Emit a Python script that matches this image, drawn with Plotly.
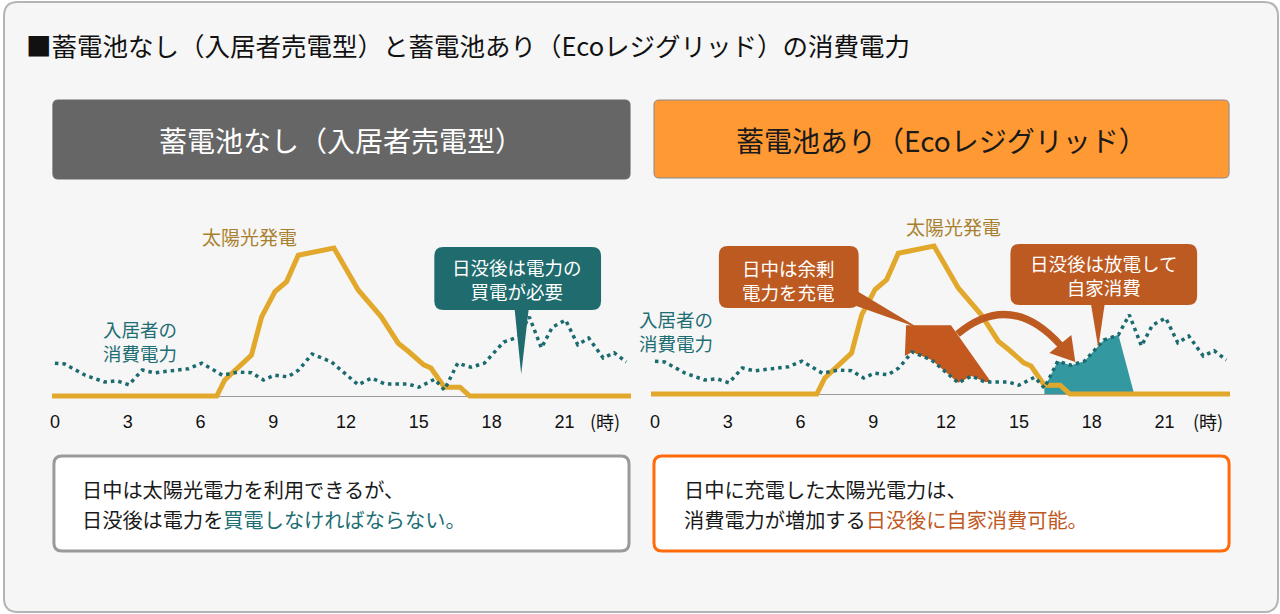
import plotly.graph_objects as go

W, H = 1280, 614
FONT = "Noto Sans CJK JP"

# ---------------- data ----------------
hours_solar = [-0.2, 6.67, 7.0, 8.1, 8.52, 9.07, 9.55, 10.03, 11.5, 12.5, 13.45, 14.15,
               14.6, 15.2, 15.5, 16.05, 16.7, 17.1, 23.8]
solar_kw = [0, 0, 0.4, 1.02, 1.98, 2.61, 2.86, 3.52, 3.7, 2.65, 1.98, 1.32,
            1.1, 0.78, 0.7, 0.22, 0.22, 0, 0]

hours_use = [0.0, 0.4, 1.25, 2.05, 2.55, 3.05, 3.6, 4.1, 5.5, 6.05, 6.9, 7.55, 8.1, 8.6,
             9.05, 9.6, 10.05, 10.6, 11.4, 12.5, 13.05, 13.6, 14.55, 15.0, 15.65, 16.05,
             16.6, 17.15, 17.7, 18.5, 19.1, 19.55, 20.05, 20.5, 21.05, 21.55, 22.0, 22.6,
             23.05, 23.55]
use_kw = [0.82, 0.8, 0.52, 0.35, 0.38, 0.28, 0.65, 0.58, 0.68, 0.82, 0.52, 0.6, 0.58, 0.4,
          0.52, 0.48, 0.65, 1.05, 0.85, 0.28, 0.45, 0.3, 0.3, 0.22, 0.42, 0.15,
          0.82, 0.72, 0.82, 1.35, 1.48, 1.98, 1.2, 1.72, 1.9, 1.28, 1.45, 0.95,
          1.08, 0.85]

# battery charge area (upper edge)
charge_hours = [10.3, 10.35, 12.2, 13.85]
charge_top = [0.95, 1.72, 1.72, 0.3]
# battery discharge window
discharge_start, discharge_peak, discharge_end = 16.05, 19.1, 19.75

tick_hours = [0, 3, 6, 9, 12, 15, 18, 21]
tick_labels = ["0", "3", "6", "9", "12", "15", "18", "21"]
hour_unit = "(時)"

title_text = "■蓄電池なし（入居者売電型）と蓄電池あり（Ecoレジグリッド）の消費電力"
left_header = "蓄電池なし（入居者売電型）"
right_header = "蓄電池あり（Ecoレジグリッド）"
solar_label = "太陽光発電"
use_label = ["入居者の", "消費電力"]
left_callout = ["日没後は電力の", "買電が必要"]
right_callout1 = ["日中は余剰", "電力を充電"]
right_callout2 = ["日没後は放電して", "自家消費"]
left_note = ["日中は太陽光電力を利用できるが、",
             "日没後は電力を<span style='color:#1d6e73'>買電しなければならない。</span>"]
right_note = ["日中に充電した太陽光電力は、",
              "消費電力が増加する<span style='color:#c0591f'>日没後に自家消費可能。</span>"]

# ---------------- colours ----------------
C_SOLAR = "#e2a82c"
C_USE = "#1b6a70"
C_TEAL_BOX = "#1f6b6e"
C_BROWN = "#bd5a21"
C_CHARGE = "#c3591f"
C_DISCH = "#3398a0"


def px(x):
    return x / W


def py(y):
    return 1 - y / H


def rrect(x0, y0, x1, y1, r):
    pts = [
        ("M", x0 + r, y0), ("L", x1 - r, y0), ("Q", x1, y0, x1, y0 + r),
        ("L", x1, y1 - r), ("Q", x1, y1, x1 - r, y1), ("L", x0 + r, y1),
        ("Q", x0, y1, x0, y1 - r), ("L", x0, y0 + r), ("Q", x0, y0, x0 + r, y0),
    ]
    out = []
    for p in pts:
        cmd = p[0]
        coords = p[1:]
        s = " ".join(f"{px(coords[i]):.5f},{py(coords[i+1]):.5f}" for i in range(0, len(coords), 2))
        out.append(f"{cmd}{s}")
    return " ".join(out) + " Z"


def poly(points):
    s = " L".join(f"{px(x):.5f},{py(y):.5f}" for x, y in points)
    return "M" + s + " Z"


fig = go.Figure()

# ---------------- right chart fills ----------------
cx = list(charge_hours)
cy = list(charge_top)
back = [(h, v) for h, v in zip(hours_use, use_kw) if charge_hours[0] <= h <= charge_hours[-1]]
for h, v in reversed(back):
    cx.append(h)
    cy.append(v)
fig.add_trace(go.Scatter(x=cx, y=cy, fill="toself", fillcolor=C_CHARGE, mode="none",
                         xaxis="x2", yaxis="y2", hoverinfo="skip"))

dx = [h for h in hours_use if discharge_start <= h <= discharge_peak]
dy = [v for h, v in zip(hours_use, use_kw) if discharge_start <= h <= discharge_peak]
dx += [discharge_end, discharge_start]
dy += [0, 0]
fig.add_trace(go.Scatter(x=dx, y=dy, fill="toself", fillcolor=C_DISCH, mode="none",
                         xaxis="x2", yaxis="y2", hoverinfo="skip"))

# ---------------- lines ----------------
for xa, ya in (("x", "y"), ("x2", "y2")):
    fig.add_trace(go.Scatter(x=hours_solar, y=solar_kw, mode="lines",
                             line=dict(color=C_SOLAR, width=5),
                             xaxis=xa, yaxis=ya, hoverinfo="skip"))
    fig.add_trace(go.Scatter(x=hours_use, y=use_kw, mode="lines",
                             line=dict(color=C_USE, width=3.5, dash="3.5px,4px"),
                             xaxis=xa, yaxis=ya, hoverinfo="skip"))

# ---------------- axes ----------------
PXH = 24.3
L0, R0 = 53, 654
ydom = [py(404), py(200)]
axis_common = dict(showgrid=False, zeroline=False, showline=False, ticks="outside",
                   ticklen=1, tickcolor="rgba(0,0,0,0)", tickvals=tick_hours,
                   ticktext=tick_labels, fixedrange=True,
                   tickfont=dict(family="Liberation Sans, " + FONT, size=18, color="#111"))
yaxis_common = dict(showgrid=False, showticklabels=False, showline=False, zeroline=True,
                    zerolinecolor="#9a9a9a", zerolinewidth=1, domain=ydom, fixedrange=True)

fig.update_layout(
    xaxis=dict(domain=[px(50), px(630)], range=[(50 - L0) / PXH, (630 - L0) / PXH],
               anchor="y", **axis_common),
    yaxis=dict(range=[(396 - 404) / 40, (396 - 200) / 40], anchor="x", **yaxis_common),
    xaxis2=dict(domain=[px(650), px(1230)], range=[(650 - R0) / PXH, (1230 - R0) / PXH],
                anchor="y2", **axis_common),
    yaxis2=dict(range=[(394 - 404) / 40, (394 - 200) / 40], anchor="x2", **yaxis_common),
)

# ---------------- shapes ----------------
shapes = []
# outer frame
shapes.append(dict(type="path", path=rrect(2, 2, 1278, 612, 14), xref="paper", yref="paper",
                   fillcolor="#f6f6f6", line=dict(color="#b4b4b4", width=2), layer="below"))
# headers
shapes.append(dict(type="path", path=rrect(51, 100, 629, 179, 5), xref="paper", yref="paper",
                   fillcolor="#666666", line=dict(color="#666666", width=1), layer="below"))
shapes.append(dict(type="path", path=rrect(653, 100, 1229, 178, 5), xref="paper", yref="paper",
                   fillcolor="#ff9933", line=dict(color="#8a8a8a", width=1), layer="below"))
# notes
shapes.append(dict(type="path", path=rrect(52, 456, 628, 551, 8), xref="paper", yref="paper",
                   fillcolor="#ffffff", line=dict(color="#9a9a9a", width=3), layer="below"))
shapes.append(dict(type="path", path=rrect(653, 456, 1229, 551, 8), xref="paper", yref="paper",
                   fillcolor="#ffffff", line=dict(color="#ff6a0a", width=3), layer="below"))
# callouts
shapes.append(dict(type="path", path=poly([(513, 305), (528, 305), (520, 374)]), xref="paper",
                   yref="paper", fillcolor=C_TEAL_BOX, line=dict(width=0)))
shapes.append(dict(type="path", path=rrect(433, 247, 600, 310, 9), xref="paper", yref="paper",
                   fillcolor=C_TEAL_BOX, line=dict(width=0)))
shapes.append(dict(type="path", path=poly([(848, 286), (850, 304), (918, 328)]), xref="paper",
                   yref="paper", fillcolor=C_BROWN, line=dict(width=0)))
shapes.append(dict(type="path", path=rrect(718, 246, 858, 308, 9), xref="paper", yref="paper",
                   fillcolor=C_BROWN, line=dict(width=0)))
shapes.append(dict(type="path", path=poly([(1090, 300), (1105, 300), (1098, 348)]), xref="paper",
                   yref="paper", fillcolor=C_BROWN, line=dict(width=0)))
shapes.append(dict(type="path", path=rrect(1010, 244, 1197, 305, 9), xref="paper", yref="paper",
                   fillcolor=C_BROWN, line=dict(width=0)))
# curved arrow
shapes.append(dict(type="path",
                   path=f"M{px(957):.5f},{py(334):.5f} Q{px(1010):.5f},{py(290):.5f} {px(1060):.5f},{py(345):.5f}",
                   xref="paper", yref="paper", line=dict(color=C_BROWN, width=7)))
shapes.append(dict(type="path", path=poly([(1049, 353), (1071, 335), (1075, 362)]), xref="paper",
                   yref="paper", fillcolor=C_BROWN, line=dict(width=0)))
fig.update_layout(shapes=shapes)

# ---------------- annotations ----------------
ann = []


def text(x, y, t, size, color, xanchor="center", family=FONT):
    ann.append(dict(x=px(x), y=py(y), xref="paper", yref="paper",
                    text=t, showarrow=False, xanchor=xanchor, yanchor="middle",
                    align=("left" if xanchor == "left" else "center"),
                    font=dict(family=family, size=size, color=color)))


text(22, 44, title_text, 25.5, "#111111", xanchor="left")
text(340, 140, left_header, 28, "#ffffff")
text(941, 140, right_header, 28, "#1a1a1a")

text(248, 237, solar_label, 19, "#a9812e")
text(953, 227, solar_label, 19, "#a9812e")
text(99, 341, "<br>".join(use_label), 18.5, "#1e6e74", xanchor="left")
text(636, 331, "<br>".join(use_label), 18.5, "#1e6e74", xanchor="left")

text(516, 279, "<br>".join(left_callout), 18.5, "#ffffff")
text(788, 280, "<br>".join(right_callout1), 18.5, "#ffffff")
text(1103, 275, "<br>".join(right_callout2), 18.5, "#ffffff")

text(78, 489, left_note[0], 20.2, "#1a1a1a", xanchor="left")
text(78, 519, left_note[1], 20.2, "#1a1a1a", xanchor="left")
text(681, 489, right_note[0], 20.2, "#1a1a1a", xanchor="left")
text(681, 519, right_note[1], 20.2, "#1a1a1a", xanchor="left")

ann.append(dict(x=(604 - L0) / PXH, y=py(421), xref="x", yref="paper", text=hour_unit,
                showarrow=False, yanchor="middle", xanchor="center",
                font=dict(family=FONT, size=18, color="#111")))
ann.append(dict(x=(1208 - R0) / PXH, y=py(421), xref="x2", yref="paper", text=hour_unit,
                showarrow=False, yanchor="middle", xanchor="center",
                font=dict(family=FONT, size=18, color="#111")))

fig.update_layout(
    annotations=ann,
    width=W, height=H, autosize=False,
    margin=dict(l=0, r=0, t=0, b=0),
    paper_bgcolor="#ffffff", plot_bgcolor="rgba(0,0,0,0)",
    showlegend=False,
    font=dict(family=FONT),
)

fig.write_html("out.html", config={"displayModeBar": False, "staticPlot": True},
               post_script="document.body.style.margin='0';document.body.style.overflow='hidden';")
